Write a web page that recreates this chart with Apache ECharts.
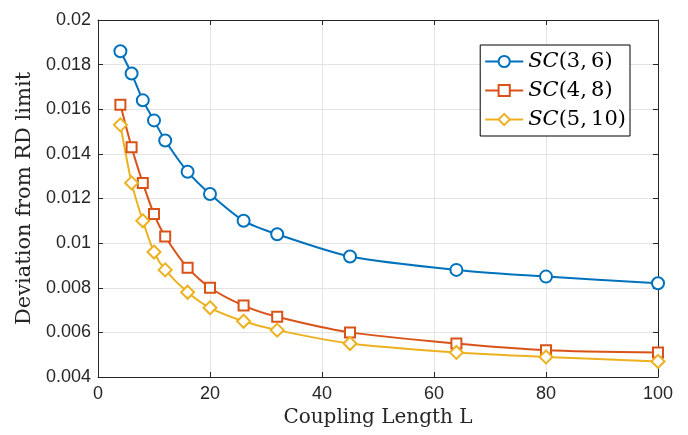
<!DOCTYPE html>
<html><head><meta charset="utf-8">
<script src="https://cdn.jsdelivr.net/npm/echarts@6/dist/echarts.min.js"></script>
<style>html,body{margin:0;padding:0;background:#fff}#c{width:688px;height:435px}</style>
</head><body><div id="c"></div>
<script>
var couplingLength = [4, 6, 8, 10, 12, 16, 20, 26, 32, 45, 64, 80, 100];
var sc36 = [0.0186, 0.0176, 0.0164, 0.0155, 0.0146, 0.0132, 0.0122, 0.0110, 0.0104, 0.0094, 0.0088, 0.0085, 0.0082];
var sc48 = [0.0162, 0.0143, 0.0127, 0.0113, 0.0103, 0.0089, 0.0080, 0.0072, 0.0067, 0.0060, 0.0055, 0.0052, 0.0051];
var sc510 = [0.0153, 0.0127, 0.0110, 0.0096, 0.0088, 0.0078, 0.0071, 0.0065, 0.0061, 0.0055, 0.0051, 0.0049, 0.0047];
var seriesNames = ['SC(3, 6)', 'SC(4, 8)', 'SC(5, 10)'];
var xTicks = [0, 20, 40, 60, 80, 100];
var yTicks = [0.004, 0.006, 0.008, 0.01, 0.012, 0.014, 0.016, 0.018, 0.02];

function pairs(v){ return couplingLength.map(function(x,i){return [x, v[i]];}); }
var axisColor = '#262626';
var gridColor = '#e3e3e3';
var chart = echarts.init(document.getElementById('c'), null, {renderer:'canvas'});
function mkSeries(name, data, color, symbol, size){
  return {name:name, type:'line', data:pairs(data), smooth:0.25, symbol:symbol, symbolSize:size,
    showAllSymbol:true,
    lineStyle:{color:color, width:2}, itemStyle:{color:'#fff', borderColor:color, borderWidth:2},
    emphasis:{disabled:true}, xAxisIndex:0, yAxisIndex:0};
}
chart.setOption({
  animation:false,
  grid:{left:98, right:30, top:20, bottom:58, containLabel:false},
  legend:{
    right:58, top:45, orient:'vertical', backgroundColor:'#fff', borderColor:'#000', borderWidth:1,
    padding:[6,4,6,4], itemGap:8, itemWidth:38, itemHeight:14,
    data:seriesNames,
    formatter:function(n){ var m=n.match(/^SC(.*)$/); return '{i|SC}{n|'+m[1].replace(', ',',\u2009')+'}'; },
    textStyle:{rich:{i:{fontFamily:'DejaVu Serif', fontStyle:'italic', fontSize:21, color:'#000'},
                     n:{fontFamily:'DejaVu Serif', fontSize:21, color:'#000'}}}
  },
  xAxis:[{type:'value', min:0, max:100, interval:20, position:'bottom',
    name:'Coupling Length L', nameLocation:'middle', nameGap:30,
    nameTextStyle:{fontFamily:'DejaVu Serif', fontSize:20, color:'#262626'},
    axisLine:{onZero:false, lineStyle:{color:axisColor, width:1}},
    axisTick:{inside:true, length:5, lineStyle:{color:axisColor}},
    axisLabel:{fontFamily:'Liberation Sans', fontSize:18, color:'#262626', margin:8},
    splitLine:{show:true, lineStyle:{color:gridColor, width:1}}},
   {type:'value', min:0, max:100, interval:20, position:'top',
    axisLine:{onZero:false, lineStyle:{color:axisColor}}, axisTick:{inside:true, length:5, lineStyle:{color:axisColor}},
    axisLabel:{show:false}, splitLine:{show:false}}],
  yAxis:[{type:'value', min:0.004, max:0.02, interval:0.002, position:'left',
    name:'Deviation from RD limit', nameLocation:'middle', nameGap:56,
    nameTextStyle:{fontFamily:'DejaVu Serif', fontSize:21, color:'#262626'},
    axisLine:{show:true, onZero:false, lineStyle:{color:axisColor}},
    axisTick:{show:true, inside:true, length:5, lineStyle:{color:axisColor}},
    axisLabel:{fontFamily:'Liberation Sans', fontSize:18, color:'#262626', margin:7,
      formatter:function(v){ return String(parseFloat(v.toFixed(3))); }},
    splitLine:{show:true, lineStyle:{color:gridColor, width:1}}},
   {type:'value', min:0.004, max:0.02, interval:0.002, position:'right',
    axisLine:{show:true, onZero:false, lineStyle:{color:axisColor}},
    axisTick:{show:true, inside:true, length:5, lineStyle:{color:axisColor}},
    axisLabel:{show:false}, splitLine:{show:false}}],
  series:[
    mkSeries(seriesNames[0], sc36, '#0072BD', 'circle', 12),
    mkSeries(seriesNames[1], sc48, '#D95319', 'rect', 10),
    mkSeries(seriesNames[2], sc510, '#EDB120', 'diamond', 13)
  ]
});
</script></body></html>
